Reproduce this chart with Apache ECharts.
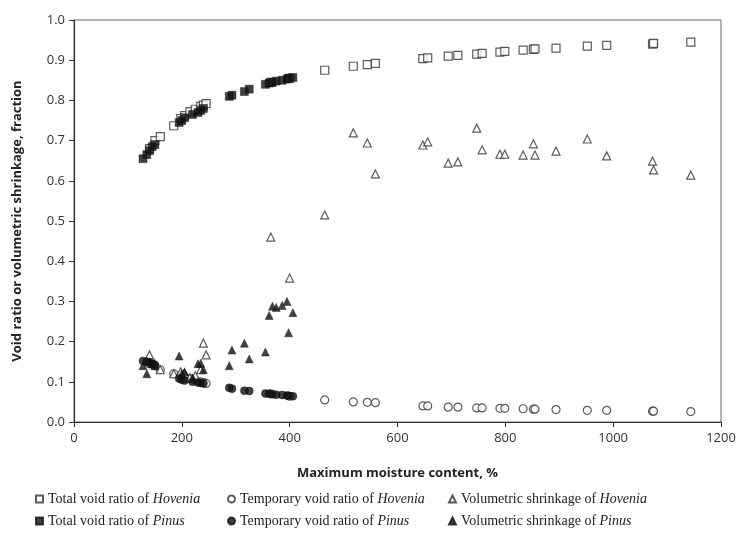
<!DOCTYPE html>
<html><head><meta charset="utf-8">
<script src="https://cdn.jsdelivr.net/npm/echarts@6/dist/echarts.min.js"></script>
<style>html,body{margin:0;padding:0;background:#fff}#c{width:739px;height:533px}</style>
</head><body><div id="c"></div>
<script>
// Hovenia samples
const hovX = [140,150,160,185,198,205,215,225,235,240,245,365,400,465,518,544,559,647,656,694,712,747,757,790,799,833,852,855,894,952,988,1073,1075,1144];
const hovTotal = [0.68,0.70,0.71,0.737,0.755,0.762,0.772,0.778,0.785,0.788,0.792,0.845,0.855,0.875,0.885,0.889,0.892,0.904,0.906,0.91,0.912,0.915,0.917,0.92,0.922,0.925,0.927,0.928,0.93,0.935,0.937,0.940,0.942,0.945];
const hovTemp = [0.145,0.14,0.13,0.12,0.115,0.112,0.108,0.104,0.1,0.098,0.096,0.07,0.064,0.055,0.05,0.049,0.048,0.04,0.04,0.037,0.037,0.035,0.035,0.034,0.034,0.033,0.032,0.032,0.031,0.029,0.029,0.027,0.027,0.026];
const hovShrink = [0.167,0.145,0.13,0.12,0.125,0.12,0.11,0.115,0.13,0.196,0.167,0.46,0.358,0.515,0.719,0.694,0.617,0.689,0.697,0.644,0.647,0.731,0.677,0.666,0.666,0.664,0.692,0.664,0.674,0.704,0.662,0.649,0.627,0.614];
// Pinus samples
const pinX = [128,135,140,145,150,195,200,205,220,230,235,240,288,293,316,325,355,362,368,375,386,395,398,406];
const pinTotal = [0.655,0.665,0.675,0.685,0.69,0.745,0.75,0.757,0.765,0.77,0.775,0.78,0.81,0.813,0.822,0.828,0.84,0.843,0.845,0.848,0.85,0.853,0.855,0.857];
const pinTemp = [0.152,0.15,0.148,0.145,0.142,0.108,0.105,0.103,0.1,0.098,0.097,0.096,0.085,0.083,0.078,0.077,0.071,0.07,0.069,0.068,0.067,0.066,0.065,0.064];
const pinShrink = [0.14,0.12,0.15,0.145,0.14,0.164,0.12,0.125,0.11,0.145,0.146,0.13,0.14,0.179,0.196,0.157,0.174,0.265,0.288,0.285,0.29,0.30,0.222,0.272];

const xTicks = [0,200,400,600,800,1000,1200];
const yTicks = [0,0.1,0.2,0.3,0.4,0.5,0.6,0.7,0.8,0.9,1.0];

const names = [
  ['hT','Total void ratio of ','Hovenia'],
  ['hR','Temporary void ratio of ','Hovenia'],
  ['hS','Volumetric shrinkage of ','Hovenia'],
  ['pT','Total void ratio of ','Pinus'],
  ['pR','Temporary void ratio of ','Pinus'],
  ['pS','Volumetric shrinkage of ','Pinus']
];
const zip = (xs, ys) => xs.map((x,i)=>[x, ys[i]]);
const openStyle = {color:'#fff', borderColor:'#333', borderWidth:1.2};
const fillStyle = {color:'#111', borderColor:'#111', borderWidth:0.5};
const seriesDefs = [
  ['hT', hovX, hovTotal, 'rect', 8, openStyle],
  ['hR', hovX, hovTemp, 'circle', 8, openStyle],
  ['hS', hovX, hovShrink, 'triangle', 8, openStyle],
  ['pT', pinX, pinTotal, 'rect', 8, fillStyle],
  ['pR', pinX, pinTemp, 'circle', 8, fillStyle],
  ['pS', pinX, pinShrink, 'triangle', 8, fillStyle]
];
const series = seriesDefs.map(d => ({
  type:'scatter', name:d[0], data: zip(d[1], d[2]), symbol:d[3], symbolSize:d[4],
  itemStyle:d[5], z: d[5]===fillStyle ? 3 : 2
}));
const colX = [30, 222, 443];
const rowY = [487, 509];
const legends = names.map((n, i) => ({
  data:[n[0]], left: colX[i%3], top: rowY[Math.floor(i/3)],
  itemWidth:7, itemHeight:7, itemGap:4,
  formatter: () => '{a|' + n[1] + '}{b|' + n[2] + '}',
  textStyle:{ rich:{
    a:{fontFamily:'Liberation Serif', fontSize:14, color:'#222'},
    b:{fontFamily:'Liberation Serif', fontSize:14, fontStyle:'italic', color:'#222'}
  }}
}));
const chart = echarts.init(document.getElementById('c'));
chart.setOption({
  animation:false,
  backgroundColor:'#fff',
  grid:{left:74, right:18, top:20, bottom:111, show:true, borderColor:'#666', borderWidth:1},
  legend: legends,
  xAxis:{type:'value', min:xTicks[0], max:xTicks[xTicks.length-1], interval:200,
    name:'Maximum moisture content, %', nameLocation:'middle', nameGap:45,
    nameTextStyle:{fontFamily:'Open Sans', fontWeight:'bold', fontSize:13, color:'#222'},
    axisLine:{lineStyle:{color:'#333', width:1.2}}, axisTick:{show:true, length:5, inside:false, lineStyle:{color:'#333'}},
    axisLabel:{fontFamily:'Open Sans', fontSize:13, color:'#333', margin:10, formatter:v=>String(v)}, splitLine:{show:false}},
  yAxis:{type:'value', min:yTicks[0], max:yTicks[yTicks.length-1], interval:0.1,
    name:'Void ratio or volumetric shrinkage, fraction', nameLocation:'middle', nameGap:50, nameRotate:90,
    nameTextStyle:{fontFamily:'Open Sans', fontWeight:'bold', fontSize:13, color:'#222'},
    axisLine:{show:true, lineStyle:{color:'#333', width:1.2}}, axisTick:{show:true, length:5, lineStyle:{color:'#333'}},
    axisLabel:{fontFamily:'Open Sans', fontSize:13, color:'#333', margin:9, formatter:v=>v.toFixed(1)}, splitLine:{show:false}},
  series: series
});
</script></body></html>
